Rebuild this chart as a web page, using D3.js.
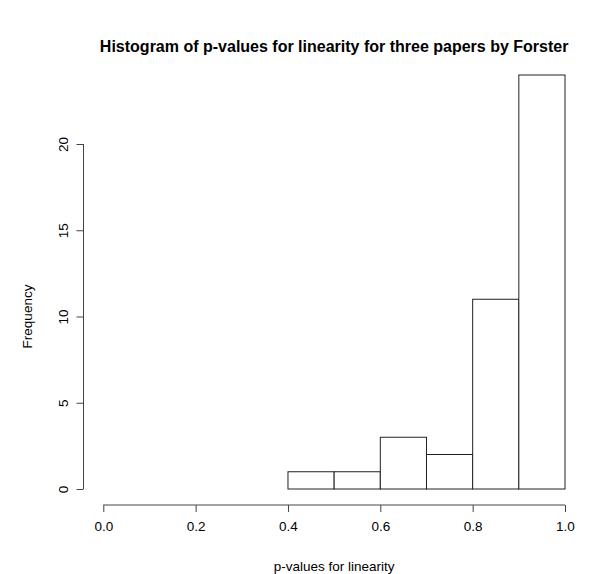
<!DOCTYPE html>
<html>
<head>
<meta charset="utf-8">
<script src="https://cdn.jsdelivr.net/npm/d3@7"></script>
<style>
  body { margin: 0; background: #fff; }
  text { font-family: "Liberation Sans", Arial, Helvetica, sans-serif; fill: #000; }
</style>
</head>
<body>
<svg width="591" height="574"></svg>
<script>
// histogram bins (p-values for linearity) and counts
const binStarts = [0.4, 0.5, 0.6, 0.7, 0.8, 0.9];
const binWidth = 0.1;
const counts = [1, 1, 3, 2, 11, 24];
const xTicks = [0, 0.2, 0.4, 0.6, 0.8, 1.0];
const yTicks = [0, 5, 10, 15, 20];

const svg = d3.select("svg");

const x = d3.scaleLinear().domain([0, 1]).range([103.3, 565]);
const y = d3.scaleLinear().domain([0, 24]).range([489, 75]);

// bars
svg.append("g")
  .selectAll("rect")
  .data(binStarts)
  .join("rect")
  .attr("x", (d) => x(d))
  .attr("y", (d, i) => y(counts[i]))
  .attr("width", (d) => x(d + binWidth) - x(d))
  .attr("height", (d, i) => y(0) - y(counts[i]))
  .attr("fill", "#fff")
  .attr("stroke", "#222")
  .attr("stroke-width", 1);

// x axis, detached below the plot like base R
const xAxis = svg.append("g")
  .attr("transform", "translate(0,505)")
  .call(d3.axisBottom(x).tickValues(xTicks).tickFormat(d3.format(".1f")).tickSize(7).tickPadding(9));

// y axis
const yAxis = svg.append("g")
  .attr("transform", "translate(83.5,0)")
  .call(d3.axisLeft(y).tickValues(yTicks).tickSize(7).tickPadding(4));

[xAxis, yAxis].forEach((g) => {
  g.select(".domain").attr("stroke", "#444");
  g.selectAll(".tick line").attr("stroke", "#444");
  g.selectAll(".tick text").attr("font-size", 13.5).attr("fill", "#000")
    .style("font-family", "'Liberation Sans', Arial, sans-serif");
});
xAxis.select(".domain").attr("d", `M${x(0)},0H${x(1)}`);
yAxis.select(".domain").attr("d", `M0,${y(0)}V${y(20)}`);

// rotate y tick labels like R (las = 0)
yAxis.selectAll(".tick text")
  .attr("x", null).attr("dy", null)
  .attr("text-anchor", "middle")
  .attr("transform", "translate(-16,0) rotate(-90)");

// titles
svg.append("text")
  .attr("x", (x(0) + x(1)) / 2)
  .attr("y", 52)
  .attr("text-anchor", "middle")
  .attr("font-size", 16)
  .attr("font-weight", "bold")
  .text("Histogram of p-values for linearity for three papers by Forster");

svg.append("text")
  .attr("x", (x(0) + x(1)) / 2)
  .attr("y", 571)
  .attr("text-anchor", "middle")
  .attr("font-size", 13.5)
  .text("p-values for linearity");

svg.append("text")
  .attr("transform", `translate(32,${(y(0) + y(20)) / 2}) rotate(-90)`)
  .attr("text-anchor", "middle")
  .attr("font-size", 13.5)
  .text("Frequency");
</script>
</body>
</html>
